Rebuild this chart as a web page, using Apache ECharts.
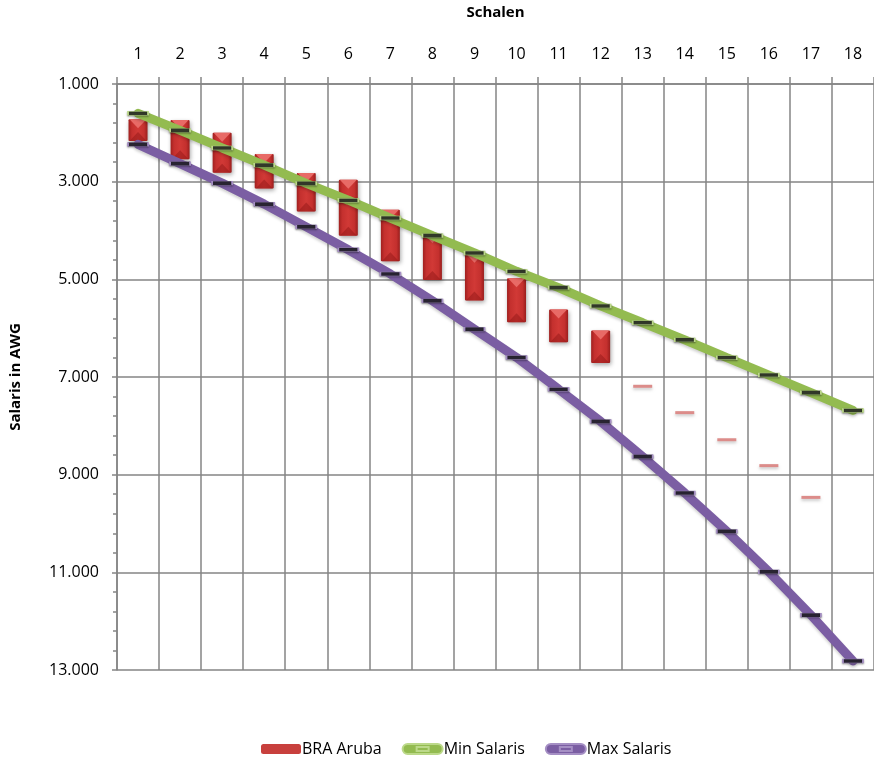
<!DOCTYPE html>
<html>
<head>
<meta charset="utf-8">
<script src="https://cdn.jsdelivr.net/npm/echarts@6/dist/echarts.min.js"></script>
<style>
  html, body { margin: 0; padding: 0; background: #fff; }
  #chart { width: 874px; height: 765px; }
</style>
</head>
<body>
<div id="chart"></div>
<script>
// ---- data ----
const categories = ['1','2','3','4','5','6','7','8','9','10','11','12','13','14','15','16','17','18'];
const minSalaris = [1600, 1950, 2310, 2660, 3035, 3380, 3745, 4105, 4460, 4835, 5170, 5545, 5890, 6240, 6605, 6960, 7320, 7685];
const maxSalaris = [2235, 2630, 3030, 3460, 3925, 4395, 4890, 5440, 6020, 6600, 7250, 7910, 8630, 9375, 10160, 10990, 11875, 12815];
const braLow  = [1720, 1735, 2000, 2435, 2825, 2960, 3575, 4070, 4475, 4980, 5620, 6050, 7190, 7730, 8285, 8815, 9465, null];
const braHigh = [2165, 2540, 2815, 3140, 3610, 4105, 4630, 5015, 5435, 5880, 6290, 6715, 7190, 7730, 8285, 8815, 9465, null];
const yTicks = { min: 1000, max: 13000, interval: 2000 };

const FONT = 'Open Sans';
const braData = categories.map((c, i) => braLow[i] == null ? null : [i, braLow[i], braHigh[i]]).filter(d => d);

function fmt(v) {
  return String(v).replace(/\B(?=(\d{3})+(?!\d))/g, '.');
}

const chart = echarts.init(document.getElementById('chart'), null, { renderer: 'canvas' });
chart.setOption({
  animation: false,
  backgroundColor: '#fff',
  textStyle: { fontFamily: FONT },
  grid: { left: 112, right: 0, top: 83, bottom: 95, containLabel: false },
  xAxis: {
    type: 'category',
    position: 'top',
    data: categories,
    name: 'Schalen',
    nameLocation: 'middle',
    nameGap: 64,
    nameTextStyle: { fontFamily: FONT, fontSize: 15, fontWeight: 'bold', color: '#000' },
    axisLine: { show: true, lineStyle: { color: '#858585', width: 1.5 } },
    axisTick: { show: true, length: 7, lineStyle: { color: '#858585', width: 1.5 } },
    axisLabel: { fontFamily: FONT, fontSize: 16, color: '#000', margin: 22 },
    splitLine: { show: true, lineStyle: { color: '#858585', width: 1.5 } }
  },
  yAxis: {
    type: 'value',
    inverse: true,
    min: yTicks.min,
    max: yTicks.max,
    interval: yTicks.interval,
    name: 'Salaris in AWG',
    nameLocation: 'middle',
    nameGap: 94,
    nameRotate: 90,
    nameTextStyle: { fontFamily: FONT, fontSize: 15, fontWeight: 'bold', color: '#000' },
    axisLine: { show: true, lineStyle: { color: '#858585', width: 1.5 } },
    axisTick: { show: true, length: 5, lineStyle: { color: '#858585', width: 1.5 } },
    minorTick: { show: true, splitNumber: 5, length: 4, lineStyle: { color: '#858585', width: 1.5 } },
    axisLabel: { fontFamily: FONT, fontSize: 16, color: '#000', margin: 18, formatter: fmt },
    splitLine: { show: true, lineStyle: { color: '#858585', width: 1.5 } }
  },
  legend: {
    left: 256,
    bottom: 3,
    itemWidth: 40,
    itemHeight: 10,
    itemGap: 20,
    textStyle: { fontFamily: FONT, fontSize: 16, color: '#000', padding: [0, 0, 0, -4] },
    data: [
      { name: 'BRA Aruba', icon: 'roundRect', itemStyle: { color: '#c8403d' } },
      { name: 'Min Salaris', icon: 'path://M5,0 L35,0 A5,5 0 0 1 35,10 L5,10 A5,5 0 0 1 5,0 Z M14,3 L26,3 L26,7 L14,7 Z', itemStyle: { color: '#93bb50' } },
      { name: 'Max Salaris', icon: 'path://M5,0 L35,0 A5,5 0 0 1 35,10 L5,10 A5,5 0 0 1 5,0 Z M14,3 L26,3 L26,7 L14,7 Z', itemStyle: { color: '#7b5ea3' } }
    ]
  },
  series: [
    {
      name: 'BRA Aruba',
      type: 'custom',
      z: 1,
      itemStyle: { color: '#c8403d' },
      encode: { x: 0, y: [1, 2] },
      data: braData,
      renderItem: function (params, api) {
        const idx = api.value(0);
        const lo = api.value(1), hi = api.value(2);
        const p1 = api.coord([idx, lo]);
        const p2 = api.coord([idx, hi]);
        const w = 19;
        const x = p1[0] - w / 2;
        if (Math.abs(hi - lo) < 1) {
          return {
            type: 'rect',
            shape: { x: x, y: p1[1] - 1.5, width: w, height: 3 },
            style: { fill: '#dc8c8a', shadowBlur: 3, shadowColor: 'rgba(0,0,0,0.2)', shadowOffsetY: 2 }
          };
        }
        const top = Math.min(p1[1], p2[1]);
        const h = Math.abs(p2[1] - p1[1]);
        const tri = Math.min(9, h / 2);
        return {
          type: 'group',
          children: [
            {
              type: 'rect',
              shape: { x: x, y: top, width: w, height: h, r: 1 },
              style: {
                fill: new echarts.graphic.LinearGradient(0, 0, 1, 0, [
                  { offset: 0, color: '#a0201f' },
                  { offset: 0.18, color: '#c4302e' },
                  { offset: 0.5, color: '#d13936' },
                  { offset: 0.82, color: '#c4302e' },
                  { offset: 1, color: '#9a1e1d' }
                ]),
                shadowBlur: 4, shadowColor: 'rgba(0,0,0,0.35)', shadowOffsetY: 2, shadowOffsetX: 1
              }
            },
            {
              type: 'polygon',
              shape: { points: [[x + 1, top], [x + w - 1, top], [x + w / 2, top + tri]] },
              style: { fill: '#e86a66' }
            },
            {
              type: 'polygon',
              shape: { points: [[x + 1, top + h], [x + w - 1, top + h], [x + w / 2, top + h - tri]] },
              style: { fill: 'rgba(140,20,20,0.45)' }
            }
          ]
        };
      }
    },
    {
      name: 'Min Salaris',
      type: 'line',
      z: 3,
      data: minSalaris,
      symbol: 'rect',
      symbolSize: [20, 4],
      showSymbol: true,
      lineStyle: { color: '#93bb50', width: 9, cap: 'round', shadowBlur: 3, shadowColor: 'rgba(0,0,0,0.2)', shadowOffsetY: 2 },
      itemStyle: { color: '#333a2a', borderColor: '#bcd98a', borderWidth: 0.8, shadowBlur: 2, shadowColor: 'rgba(0,0,0,0.35)', shadowOffsetY: 1 }
    },
    {
      name: 'Max Salaris',
      type: 'line',
      z: 3,
      data: maxSalaris,
      symbol: 'rect',
      symbolSize: [20, 4],
      showSymbol: true,
      lineStyle: { color: '#7b5ea3', width: 9, cap: 'round', shadowBlur: 3, shadowColor: 'rgba(0,0,0,0.2)', shadowOffsetY: 2 },
      itemStyle: { color: '#2a2533', borderColor: '#a58fc4', borderWidth: 0.8, shadowBlur: 2, shadowColor: 'rgba(0,0,0,0.35)', shadowOffsetY: 1 }
    }
  ]
});
</script>
</body>
</html>
